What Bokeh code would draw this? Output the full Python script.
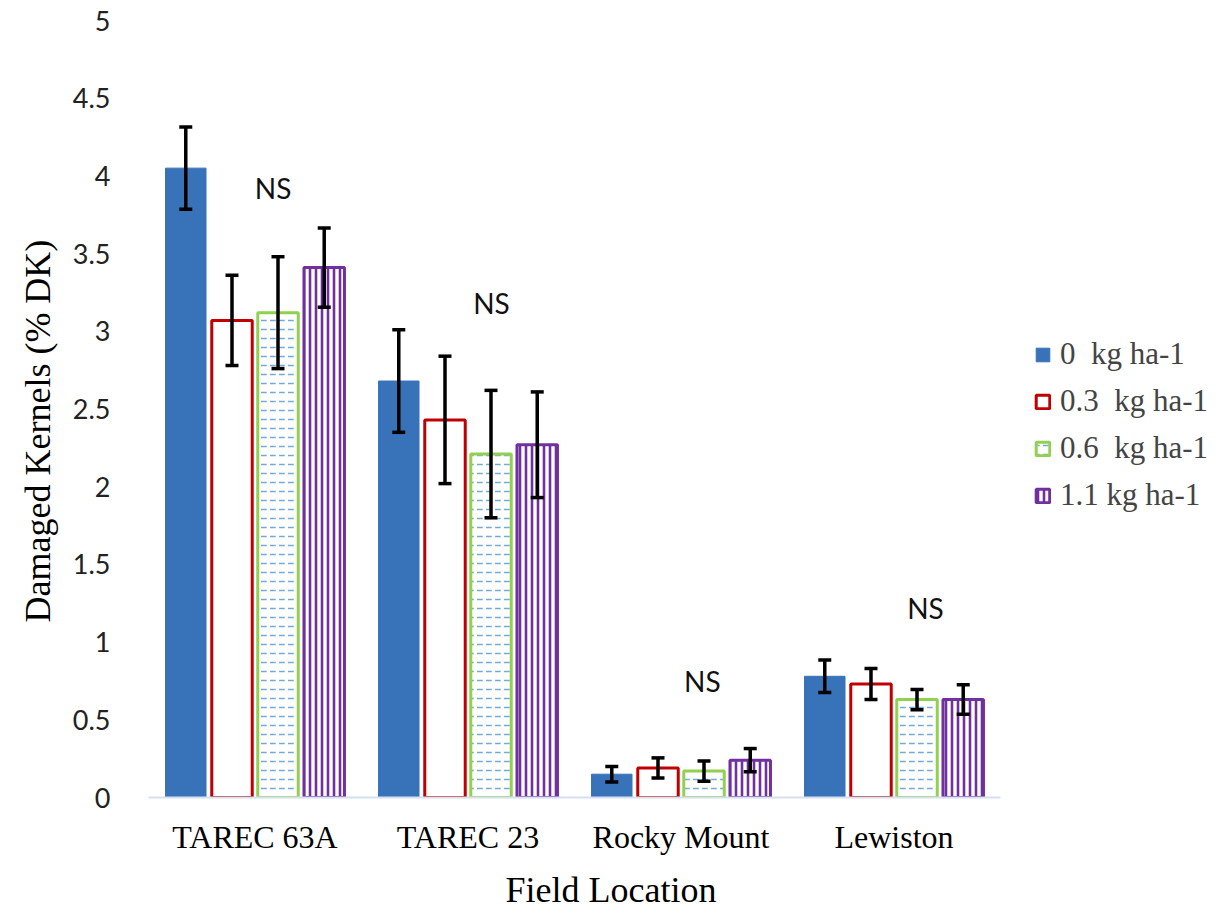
from bokeh.plotting import figure
from bokeh.models import ColumnDataSource, FactorRange, Whisker, Legend, LegendItem, TeeHead, Range1d, FixedTicker, Title
from bokeh.transform import dodge
from bokeh.core.properties import value
from bokeh.embed import file_html
from bokeh.resources import INLINE

# ---- data ----
locations = ["TAREC 63A", "TAREC 23", "Rocky Mount", "Lewiston"]
rate_labels = ["0  kg ha-1", "0.3  kg ha-1", "0.6  kg ha-1", "1.1 kg ha-1"]
dk_0 = [4.05, 2.68, 0.15, 0.78]
dk_03 = [3.07, 2.43, 0.19, 0.73]
dk_06 = [3.12, 2.21, 0.17, 0.63]
dk_11 = [3.41, 2.27, 0.24, 0.63]
err_0 = [0.265, 0.33, 0.05, 0.105]
err_03 = [0.29, 0.41, 0.065, 0.10]
err_06 = [0.36, 0.41, 0.065, 0.065]
err_11 = [0.255, 0.34, 0.075, 0.095]
sig_labels = ["NS", "NS", "NS", "NS"]
sig_y = [3.92, 3.18, 0.75, 1.22]
sig_offset = [0.085, 0.11, 0.10, 0.148]
y_ticks = [0, 0.5, 1, 1.5, 2, 2.5, 3, 3.5, 4, 4.5, 5]
x_title = "Field Location"
y_title = "Damaged Kernels (% DK)"

series = [dk_0, dk_03, dk_06, dk_11]
errors = [err_0, err_03, err_06, err_11]
offsets = [-0.325, -0.108, 0.108, 0.325]
bar_w = 0.19

p = figure(x_range=FactorRange(*locations, range_padding=0), y_range=Range1d(0, 5),
           frame_width=852, frame_height=777, output_backend="svg", toolbar_location=None,
           min_border_left=148, min_border_right=225, min_border_top=20, min_border_bottom=116)
p.outline_line_color = None
p.grid.grid_line_color = None
p.background_fill_color = "white"
p.border_fill_color = "white"

styles = [
    dict(fill_color="#3872b8", line_color="#3872b8", line_width=1),
    dict(fill_color="white", line_color="#c00000", line_width=3),
    dict(fill_color="white", line_color="#92d050", line_width=3,
         hatch_pattern="horizontal_dash", hatch_color="#5b9bd5", hatch_scale=9, hatch_weight=1.5, hatch_alpha=0.85),
    dict(fill_color="white", line_color="#7030a0", line_width=3,
         hatch_pattern="vertical_line", hatch_color="#7030a0", hatch_scale=6, hatch_weight=2.6),
]

renderers = []
for vals, errs, off, st in zip(series, errors, offsets, styles):
    src = ColumnDataSource(dict(loc=locations, val=vals,
                                upper=[v + e for v, e in zip(vals, errs)],
                                lower=[v - e for v, e in zip(vals, errs)]))
    r = p.vbar(x=dodge("loc", off, range=p.x_range), top="val", bottom=0, width=bar_w, source=src, **st)
    renderers.append(r)
    w = Whisker(base=dodge("loc", off, range=p.x_range), upper="upper", lower="lower", source=src,
                line_color="black", line_width=3.5, level="overlay",
                upper_head=TeeHead(size=13, line_width=3.5, line_color="black"),
                lower_head=TeeHead(size=13, line_width=3.5, line_color="black"))
    p.add_layout(w)

# NS labels
for loc, lab, yv, off in zip(locations, sig_labels, sig_y, sig_offset):
    s = ColumnDataSource(dict(loc=[loc], y=[yv], t=[lab]))
    p.text(x=dodge("loc", off, range=p.x_range), y="y", text="t", source=s,
           text_font=value("Lato"), text_font_size="28px", text_color="#111111",
           text_align="center", text_baseline="middle")

# axes
p.yaxis.ticker = FixedTicker(ticks=y_ticks)
p.yaxis.axis_line_color = None
p.yaxis.major_tick_line_color = None
p.yaxis.minor_tick_line_color = None
p.yaxis.major_label_text_font = "Lato"
p.yaxis.major_label_text_font_size = "27px"
p.yaxis.major_label_text_color = "#222222"
p.yaxis.major_label_standoff = 32

p.xaxis.axis_line_color = "#d5e0ef"
p.xaxis.axis_line_width = 2
p.xaxis.major_tick_line_color = None
p.xaxis.minor_tick_line_color = None
p.xaxis.major_label_text_font = "Liberation Serif"
p.xaxis.major_label_text_font_size = "32px"
p.xaxis.major_label_text_color = "black"
p.xaxis.major_label_standoff = 15

p.add_layout(Title(text=x_title, align="left", offset=357, standoff=20,
                   text_font="Liberation Serif", text_font_size="36px",
                   text_font_style="normal", text_color="black"), "below")
p.add_layout(Title(text=y_title, align="left", offset=175, standoff=24,
                   text_font="Liberation Serif", text_font_size="36px",
                   text_font_style="normal", text_color="black"), "left")

legend = Legend(items=[LegendItem(label=l, renderers=[r]) for l, r in zip(rate_labels, renderers)],
                location=(34, 284), orientation="vertical",
                label_text_font="Liberation Serif", label_text_font_size="31px",
                glyph_width=17, glyph_height=17, label_standoff=9, spacing=11,
                padding=4, margin=0, border_line_color=None, background_fill_alpha=0)
p.add_layout(legend, "right")

open("out.html", "w").write(file_html(p, INLINE))
